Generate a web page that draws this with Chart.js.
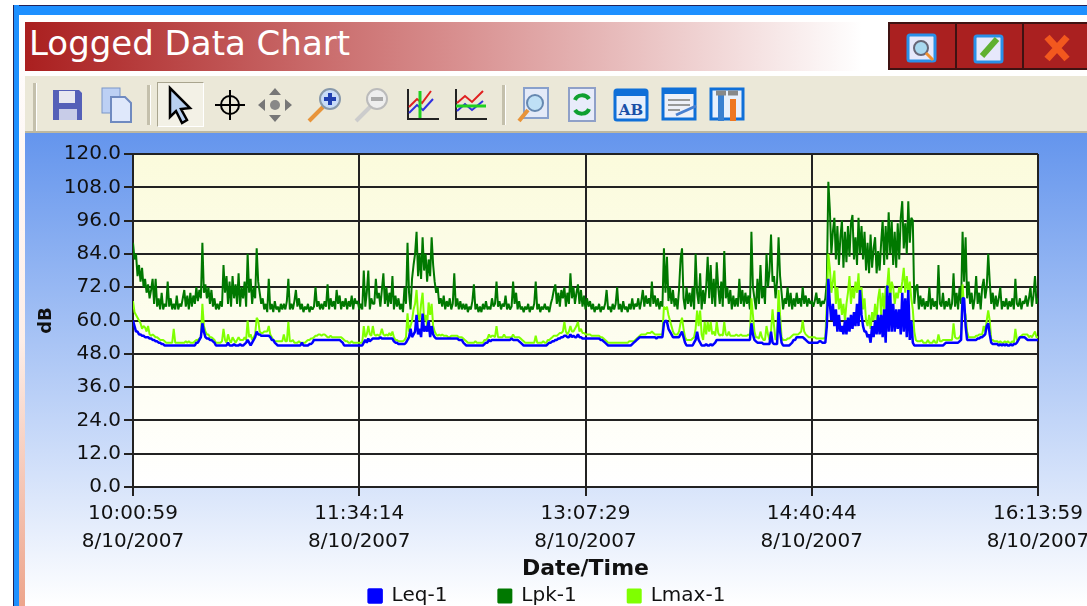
<!DOCTYPE html>
<html>
<head>
<meta charset="utf-8">
<title>Logged Data Chart</title>
<script src="https://cdn.jsdelivr.net/npm/chart.js@4"></script>
<style>
  html, body { margin: 0; padding: 0; background: #fff; overflow: hidden; }
  body { width: 1087px; height: 606px; position: relative; font-family: "DejaVu Sans", sans-serif; }
  .abs { position: absolute; }
  #frameTop { left: 13px; right: 0; top: 5px; height: 10px; background: #1e90ff; border-top: 1px solid #23235a; box-sizing: border-box; }
  #frameLeft { left: 13px; top: 5px; width: 6px; height: 601px; background: #1e90ff; border-left: 1px solid #23235a; box-sizing: border-box; }
  #frameInner { left: 19px; top: 15px; width: 6px; height: 591px; background: linear-gradient(#fff, #fdeee8 55%, #eda58c); }
  #titleBar { left: 25px; top: 22px; width: 863px; height: 49px; background: linear-gradient(90deg, #aa1f1f, #d88f8f 50%, #fff 97%); color: #fff; font-size: 34px; line-height: 43px; padding-left: 4px; box-sizing: border-box; }
  .winBtn { top: 22px; height: 48px; background: #aa2020; border: 2px solid #3f1212; box-sizing: border-box; }
  #toolBar { left: 25px; right: 0; top: 76px; height: 57px; background: #ebe8d8; border-bottom: 2px solid #bdb8a0; box-sizing: border-box; }
  #pressed { left: 157px; top: 82px; width: 47px; height: 45px; background: #f3f1e6; border: 1px solid #a9a58f; border-right-color: #fff; border-bottom-color: #fff; box-sizing: border-box; }
  .sep { top: 85px; width: 3px; height: 40px; background: #c4c0ac; border-right: 1px solid #fff; }
  .icon { top: 85px; width: 40px; height: 40px; }
  #panel { left: 25px; right: 0; top: 133px; bottom: 0; background: linear-gradient(#6495ed, #ffffff); }
  #chartBox { left: 0; top: 133px; }
</style>
</head>
<body>
<div class="abs" id="frameTop"></div>
<div class="abs" id="frameLeft"></div>
<div class="abs" id="frameInner"></div>
<div class="abs" id="titleBar">Logged Data Chart</div>

<div class="abs winBtn" style="left:888px;width:69px"></div>
<div class="abs winBtn" style="left:955px;width:69px"></div>
<div class="abs winBtn" style="left:1022px;width:70px"></div>
<svg class="abs" style="left:906px;top:33px" width="32" height="30"><rect x="2" y="2" width="27" height="26" rx="2" fill="#e6e8fb" stroke="#2a90e8" stroke-width="3"/><circle cx="15" cy="15" r="7" fill="#a8d8f0" stroke="#667"  stroke-width="2"/><path d="M20 20l7 7" stroke="#f09030" stroke-width="3"/></svg>
<svg class="abs" style="left:973px;top:32px" width="32" height="32"><rect x="2" y="4" width="27" height="26" rx="2" fill="#e6e8fb" stroke="#2a90e8" stroke-width="3"/><path d="M9 24L24 7" stroke="#5fb030" stroke-width="6"/></svg>
<svg class="abs" style="left:1042px;top:33px" width="30" height="30"><path d="M5 4L25 26M25 4L5 26" stroke="#f2581e" stroke-width="7"/></svg>

<div class="abs" id="toolBar"></div>
<div class="abs sep" style="left:33px;top:83px;height:48px"></div>
<div class="abs sep" style="left:147px"></div>
<div class="abs" id="pressed"></div>
<div class="abs sep" style="left:502px"></div>

<svg class="abs icon" style="left:47px"><path d="M6 5h26l3 3v27H6z" fill="#5560b8"/><rect x="12" y="6" width="16" height="12" fill="#e8e8f0"/><rect x="12" y="24" width="18" height="11" fill="#c8cce8"/></svg>
<svg class="abs icon" style="left:97px"><rect x="5" y="3" width="18" height="25" fill="#bcd0f4" stroke="#7b96c8"/><path d="M14 12h14l6 6v19H14z" fill="#dfe8fb" stroke="#6f8ac0" stroke-width="2"/></svg>
<svg class="abs icon" style="left:160px"><path d="M10 3V32L16 26 22 38 27 35 21 24 30 23Z" fill="#b8d0f0" stroke="#000" stroke-width="2.5"/></svg>
<svg class="abs icon" style="left:210px"><circle cx="20" cy="20" r="9" fill="none" stroke="#000" stroke-width="2"/><path d="M20 5V35M5 20H35" stroke="#000" stroke-width="2"/></svg>
<svg class="abs icon" style="left:255px"><path d="M20 3l6 7H14zM20 37l6-7H14zM3 20l7-6v12zM37 20l-7-6v12z" fill="#777"/><circle cx="20" cy="20" r="5" fill="#888"/></svg>
<svg class="abs icon" style="left:305px"><path d="M4 36L18 22" stroke="#e8943a" stroke-width="4"/><circle cx="25" cy="14" r="10" fill="#c8dcf8" stroke="#89a" stroke-width="2"/><path d="M25 8v12M19 14h12" stroke="#2040b0" stroke-width="4"/></svg>
<svg class="abs icon" style="left:352px"><path d="M4 36L18 22" stroke="#ccc" stroke-width="4"/><circle cx="25" cy="14" r="10" fill="#eee" stroke="#bbb" stroke-width="2"/><path d="M19 14h12" stroke="#aaa" stroke-width="4"/></svg>
<svg class="abs icon" style="left:403px"><path d="M5 4V34H36" fill="none" stroke="#222" stroke-width="2"/><path d="M6 22l8-8 5 4 9-12" fill="none" stroke="#e02020" stroke-width="2"/><path d="M6 28l8-8 6 5 10-11" fill="none" stroke="#3030e0" stroke-width="2"/><path d="M17 6V33" stroke="#20d020" stroke-width="3"/></svg>
<svg class="abs icon" style="left:451px"><path d="M5 4V34H36" fill="none" stroke="#222" stroke-width="2"/><path d="M6 18l8-7 7 6 11-11" fill="none" stroke="#e02020" stroke-width="2"/><path d="M6 26l8-7 7 6 11-9" fill="none" stroke="#3030e0" stroke-width="2"/><path d="M5 21H35" stroke="#20d020" stroke-width="3"/></svg>
<svg class="abs icon" style="left:515px"><rect x="9" y="3" width="24" height="30" fill="#e4eaf8" stroke="#88a0cc" stroke-width="2"/><circle cx="20" cy="18" r="8" fill="#bfe0f6" stroke="#6688b0" stroke-width="2"/><path d="M4 36L13 25" stroke="#e8943a" stroke-width="4"/></svg>
<svg class="abs icon" style="left:562px"><rect x="7" y="3" width="26" height="33" fill="#e8ecfa" stroke="#8fa0c8" stroke-width="2"/><path d="M13 15c2-6 11-6 14-1M27 24c-2 6-11 6-14 1" fill="none" stroke="#10a030" stroke-width="4"/></svg>
<svg class="abs icon" style="left:611px"><rect x="4" y="5" width="32" height="30" rx="2" fill="#e8f0fc" stroke="#0f6fd8" stroke-width="3"/><rect x="4" y="5" width="32" height="6" fill="#0f6fd8"/><text x="20" y="30" font-family="DejaVu Serif" font-weight="bold" font-size="15" text-anchor="middle" fill="#1a50a8">AB</text></svg>
<svg class="abs icon" style="left:660px"><rect x="3" y="4" width="32" height="30" fill="#eef0f8" stroke="#0f6fd8" stroke-width="3"/><rect x="3" y="4" width="32" height="5" fill="#0f6fd8"/><path d="M8 15h22M8 20h22M8 25h12" stroke="#999" stroke-width="2"/><path d="M16 30L36 21" stroke="#4a80d0" stroke-width="3"/></svg>
<svg class="abs icon" style="left:707px"><rect x="4" y="4" width="32" height="30" fill="#e8f0fc" stroke="#0f6fd8" stroke-width="3"/><path d="M14 8V36" stroke="#3a80d0" stroke-width="6"/><path d="M26 14V36" stroke="#ee7722" stroke-width="6"/><path d="M9 8h10M21 8h10" stroke="#888" stroke-width="5"/></svg>

<div class="abs" id="panel"></div>
<div class="abs" id="chartBox"><canvas id="chart" width="1087" height="473"></canvas></div>

<script>
// sample every 37.3 s across the logged period, rows of 20 samples
const lpk = [
  88, 82, 84, 76, 80, 74, 79, 72, 75, 70, 73, 68, 71, 75, 66, 75, 65, 68, 64, 70,
  64, 66, 65, 74, 65, 68, 64, 66, 64, 69, 64, 66, 65, 68, 71, 65, 69, 64, 70, 65,
  69, 66, 72, 67, 71, 68, 88, 70, 73, 68, 72, 66, 71, 65, 68, 64, 66, 64, 67, 65,
  80, 70, 76, 66, 74, 65, 76, 68, 73, 66, 77, 65, 72, 68, 74, 65, 84, 70, 75, 66,
  72, 68, 86, 74, 70, 66, 68, 64, 66, 63, 75, 64, 66, 63, 67, 64, 65, 63, 66, 64,
  66, 64, 67, 75, 64, 66, 64, 67, 71, 65, 68, 64, 66, 63, 65, 64, 66, 63, 65, 64,
  65, 72, 65, 67, 64, 66, 64, 67, 65, 73, 64, 68, 65, 67, 64, 71, 66, 69, 64, 67,
  65, 68, 64, 67, 65, 69, 64, 68, 66, 67, 64, 66, 64, 78, 65, 70, 78, 64, 68, 66,
  66, 75, 68, 70, 65, 71, 77, 66, 72, 65, 70, 66, 76, 64, 69, 65, 68, 64, 66, 63,
  72, 66, 88, 70, 64, 75, 80, 84, 92, 76, 84, 75, 90, 78, 84, 74, 82, 76, 90, 80,
  74, 70, 72, 66, 68, 65, 69, 64, 67, 65, 68, 64, 66, 77, 65, 68, 64, 67, 64, 66,
  64, 66, 63, 65, 64, 67, 73, 64, 66, 63, 65, 63, 66, 64, 67, 64, 65, 64, 68, 65,
  66, 74, 65, 67, 64, 66, 65, 69, 64, 66, 64, 65, 74, 66, 70, 64, 67, 64, 65, 63,
  65, 64, 66, 63, 65, 64, 66, 74, 64, 66, 63, 65, 64, 66, 64, 65, 63, 66, 68, 71,
  73, 66, 70, 65, 71, 68, 72, 65, 70, 66, 77, 68, 72, 66, 70, 73, 66, 71, 65, 69,
  64, 68, 65, 67, 64, 66, 63, 65, 64, 66, 63, 65, 64, 66, 71, 64, 65, 63, 66, 64,
  66, 72, 64, 66, 63, 67, 64, 65, 63, 66, 64, 68, 64, 66, 65, 68, 64, 67, 71, 65,
  69, 66, 68, 65, 74, 66, 69, 65, 68, 64, 67, 65, 86, 70, 83, 67, 72, 66, 71, 65,
  68, 64, 71, 82, 86, 68, 64, 72, 66, 70, 65, 72, 64, 84, 70, 66, 77, 64, 71, 66,
  72, 83, 68, 80, 66, 75, 65, 81, 72, 66, 74, 65, 85, 68, 72, 66, 71, 64, 69, 65,
  68, 65, 75, 66, 71, 65, 70, 66, 69, 64, 92, 72, 68, 64, 75, 66, 80, 68, 72, 66,
  84, 72, 78, 91, 74, 76, 68, 74, 90, 76, 70, 64, 68, 66, 72, 65, 70, 64, 68, 65,
  70, 66, 68, 65, 72, 66, 69, 65, 68, 66, 67, 65, 67, 70, 66, 68, 65, 67, 66, 68,
  74, 110, 100, 84, 92, 97, 82, 94, 80, 90, 96, 79, 92, 81, 94, 83, 95, 98, 82, 90,
  80, 97, 84, 94, 82, 92, 78, 88, 77, 91, 79, 86, 90, 77, 85, 78, 88, 96, 80, 94,
  82, 99, 84, 96, 80, 92, 79, 95, 82, 97, 103, 86, 95, 84, 103, 88, 97, 96, 66, 72,
  73, 64, 69, 65, 68, 64, 67, 65, 72, 64, 68, 65, 67, 64, 80, 66, 65, 70, 64, 67,
  65, 68, 64, 66, 77, 65, 70, 64, 72, 66, 92, 74, 90, 68, 74, 66, 70, 64, 68, 76,
  66, 70, 64, 72, 75, 68, 72, 84, 74, 66, 70, 64, 69, 65, 68, 72, 64, 67, 65, 68,
  64, 67, 65, 68, 64, 75, 66, 65, 68, 64, 67, 66, 69, 65, 68, 72, 65, 69, 76, 66,
  68
];
const lmax = [
  67, 63, 62, 61, 60, 59, 57, 58, 57.5, 56, 58, 55, 54.5, 55, 54.5, 54, 54, 53.5, 53, 53,
  53, 52.5, 52, 52, 52, 52, 52, 57, 52, 52, 52, 52, 52, 52, 52, 52.5, 52, 52.5, 52, 52,
  52, 52.5, 53, 53, 53.5, 54, 66, 58, 56, 55, 55, 54, 54, 53.5, 53, 52, 52, 52, 52, 52.5,
  57, 53, 52, 55, 53, 52, 54, 53, 52, 53, 54, 53, 53, 53, 54, 53, 60, 54, 55, 53,
  54, 55, 61, 60, 56, 55.5, 55.5, 56, 56, 56, 58, 55, 54, 53, 52.5, 52.5, 52.5, 52.5, 52.5, 52.5,
  55, 52.5, 52.5, 59.5, 52.5, 52.5, 53, 52, 52, 52, 52.5, 52, 52, 52, 52, 52.5, 53, 53, 53.5, 53.5,
  54, 54.5, 54.5, 55, 55, 54.5, 55, 55, 54.5, 54, 54, 54.5, 54, 54, 54, 54, 54, 54, 54, 53.5,
  53, 52.5, 52.5, 52, 52, 52.5, 52, 52, 52, 52, 52, 52, 52, 58, 54, 55, 58, 55, 54.5, 58,
  55, 54.5, 55, 54.5, 55, 57, 55, 54.5, 55, 54.5, 55.5, 54.5, 56, 54, 53, 53, 52.5, 52.5, 52.5, 52.5,
  53, 54, 62.6, 56, 58, 60, 64, 66, 71, 62, 60, 66, 70, 60, 62, 58, 66.5, 62, 66, 58,
  56, 55, 54.5, 55, 54.5, 55, 54.5, 54.5, 54.5, 54, 54, 54.5, 54.5, 54.5, 54.5, 54.5, 54, 54, 54, 53.5,
  53, 52.5, 52, 52, 52, 52, 52, 52.5, 52, 52, 52, 52, 52, 53, 53, 53.5, 55, 54, 54.5, 54.5,
  54, 58, 54, 54, 54, 54, 55, 54, 54, 54, 54, 54, 55, 54, 54, 54, 54, 53.5, 53, 52.5,
  52, 52, 52, 52, 52, 52, 52, 54.5, 52, 52, 52, 52, 52.5, 52, 52, 53, 53, 53.5, 54, 54.5,
  54.5, 54.5, 55, 55.5, 55.5, 56, 59.5, 56, 55, 56, 58, 56, 56, 57, 58, 59.5, 56, 57, 55.5, 55.5,
  55, 55, 55, 55, 54.5, 54.5, 54.5, 54.5, 54.5, 54.5, 54, 54, 53.5, 53, 52.5, 52, 52, 52, 52, 52,
  52, 52, 52, 52, 52, 52, 52, 52, 52, 52.5, 52.5, 52.5, 52.5, 53, 53.5, 54, 54.5, 55, 55, 55,
  55, 55.5, 55.5, 55.5, 56, 55.5, 55, 55, 55, 55, 55, 55, 65, 64, 65, 62, 60, 58, 56, 55,
  55, 55, 56, 59, 61, 57, 54, 53, 53, 53, 53, 53.5, 54, 57, 63.6, 58, 63.6, 55, 53, 59.5,
  55, 59.5, 56, 59.5, 55, 56, 54.5, 59.5, 55.5, 54.5, 55, 54.5, 59.5, 55, 54.5, 56, 54.5, 54.5, 54.5, 54.5,
  55, 54.5, 54.5, 55, 54.5, 54.5, 54.5, 54.5, 55, 54.5, 68, 62, 56, 54, 54, 53.5, 56, 54, 53, 53,
  58, 55, 53, 56, 64, 58, 53, 54, 71, 62, 54, 53, 53, 53, 53.5, 53.5, 54, 54.5, 55, 55,
  55, 55, 55.5, 56, 60, 56, 55, 54.5, 54, 54, 54, 54, 54, 53.5, 53.5, 53.5, 53.5, 53.5, 53.5, 54,
  66, 84, 79, 70, 74, 78, 66, 72, 64, 68, 62, 66, 60, 66, 70, 76, 66, 72, 68, 74,
  70, 77, 66, 72, 64, 68, 60, 58, 62, 57, 63, 60, 66, 60, 68, 71.5, 62, 70, 64, 72,
  72, 79, 68, 74, 72, 66, 70, 68, 72, 70, 74, 79, 70, 76, 70, 74, 68, 64, 56, 53,
  52.5, 52.5, 52.5, 53, 52, 52, 52, 53, 52, 52, 52, 53, 52, 52, 55, 52.5, 52.5, 53, 53, 53,
  53, 53, 53, 53, 59, 54, 53.5, 53.5, 54, 55, 73, 64, 62, 56, 54, 54, 54, 54, 54, 54.5,
  54.5, 55, 55, 55, 58, 56, 60, 63.6, 60, 53, 53, 52.5, 52.5, 52.5, 52, 52.5, 52, 52, 52.5, 52,
  52.5, 52, 52, 52.5, 52, 57, 53, 53, 54, 54.5, 55, 55, 55, 55, 54, 54.5, 54, 55, 56, 54,
  54
];
const leq = [
  60, 58, 56, 56, 55, 55, 54.5, 54.5, 54, 54, 54, 53.5, 53.5, 53, 53, 52.5, 52.5, 52, 52, 51.5,
  51.5, 51, 51, 51, 51, 51, 51, 51, 51, 51, 51, 51, 51, 51, 51, 51, 51, 51, 51, 51,
  51, 51, 52, 52, 53, 54, 59, 56, 54, 53.5, 53.5, 53, 53, 52.5, 52, 51, 51, 51, 51, 51,
  51, 51, 51, 52, 51, 51, 51, 51.5, 51, 51, 51, 51.5, 51, 51, 51.5, 52, 53, 52, 51, 52,
  53, 54, 56, 55, 55, 54.5, 54.5, 54.5, 54.5, 54.5, 54.5, 54, 53, 53, 52, 51.5, 51, 51, 51, 51,
  51, 51, 51, 51, 51, 51, 51, 51, 51, 51, 51, 51, 52, 51, 51, 51, 51, 51.5, 51.5, 52,
  53, 53, 53, 53, 53, 53, 53, 53, 53, 53, 53, 53, 53, 53, 53, 53, 53, 53, 52.5, 52,
  51, 51, 51, 51, 51, 51, 51, 51, 51, 51, 51, 51, 51, 52, 53, 52, 53.5, 52.5, 53, 53.5,
  53.5, 53.5, 53.5, 53.5, 54, 53.5, 53.5, 53.5, 53.5, 53.5, 53.5, 53.5, 53.5, 52.5, 52, 52, 51.5, 51.5, 51.5, 51.5,
  51.5, 52, 53, 54, 57, 54, 55, 56, 62, 55, 57, 54, 62.5, 56, 58, 56, 60, 54, 58, 55,
  54, 53.5, 53.5, 53.5, 53.5, 53.5, 53.5, 53.5, 53.5, 53.5, 53.5, 53.5, 53.5, 53.5, 53.5, 53.5, 53, 53, 53, 52,
  51.5, 51, 51, 51, 51, 51, 51, 51, 51, 51, 51, 51, 51, 51.5, 52, 52, 53, 52.5, 53, 53,
  53, 53, 53, 53, 53, 53, 53, 53, 53, 53, 53, 53.5, 53, 53, 53, 53, 52.5, 52, 51.5, 51,
  51, 51, 51, 51, 51, 51, 51, 51, 51, 51, 51, 51, 51, 51, 51, 51.5, 52, 52, 52.5, 52.5,
  53, 53, 53.5, 53.5, 54, 54, 54.5, 54.5, 54, 54, 55, 54, 54.5, 54, 54, 55, 54, 54, 53.5, 53.5,
  53.5, 53.5, 53.5, 53.5, 53.5, 53.5, 53.5, 53.5, 53.5, 53.5, 53, 53, 52.5, 52, 51.5, 51, 51, 51, 51, 51,
  51, 51, 51, 51, 51, 51, 51, 51, 51, 51, 51, 51.5, 52, 52.5, 53, 53.5, 54, 54, 54, 54,
  54, 54, 54, 54, 54, 54, 54, 53.5, 54, 54, 54, 54, 59, 60, 59.5, 57, 56, 55, 54, 54,
  54, 54, 54, 55, 56, 54, 52, 51, 51, 51, 51, 51, 52, 53, 56, 53, 52, 51, 51, 51,
  51.5, 51, 51, 51.5, 51, 51.5, 52, 53, 53, 53, 53, 53, 53, 53, 53, 53, 53, 53, 53, 53,
  53, 53, 53, 53, 53, 53, 53, 53, 53, 53, 59, 55, 53, 52.5, 52, 52, 52, 52, 51.5, 51.5,
  51.5, 51.5, 51.5, 56, 52, 51.5, 51.5, 51.5, 63, 56, 52, 51, 51, 51, 51, 51, 51.5, 52, 53, 53,
  54, 54, 54, 54, 54, 53.5, 53, 52.5, 52, 52, 52, 52, 52, 52, 52, 52.5, 52.5, 52, 52, 52,
  58, 75, 66, 60, 66, 58, 64, 56, 62, 56, 58, 55, 60, 55, 61, 56, 62, 57, 63, 58,
  66, 58, 71, 62, 58, 56, 56, 54, 55, 52, 58, 54, 60, 55, 62, 55, 62, 54, 64, 52,
  72.6, 56, 70, 56, 66, 56, 64, 57, 64, 55, 70, 56, 68, 54, 71, 53, 60, 52, 51, 51,
  51, 51, 51, 51, 51, 51, 51, 51, 51, 51, 51, 51, 51, 51, 51, 51, 51, 51, 51.5, 52,
  52, 52, 52, 52, 52, 52, 52, 52, 52.5, 53, 68, 68, 58, 53, 53, 53, 53, 53, 53, 53,
  53.5, 53.5, 54, 54, 54.5, 55, 58, 59, 55, 52, 51.5, 51.5, 51.5, 51.5, 51, 51.5, 51, 51.5, 51, 51.5,
  51, 51, 51.5, 51, 51.5, 51.5, 52, 53, 54, 54, 54, 54, 53.5, 53, 53, 53, 53, 53, 53, 53,
  53
];

const seriesNames = ['Leq-1', 'Lpk-1', 'Lmax-1'];
const timeLabels = ['10:00:59', '11:34:14', '13:07:29', '14:40:44', '16:13:59'];
const dateLabels = ['8/10/2007', '8/10/2007', '8/10/2007', '8/10/2007', '8/10/2007'];
const yTicks = [0, 12, 24, 36, 48, 60, 72, 84, 96, 108, 120];

// seconds since midnight
const startSec = 36059;
const endSec = 58439;
const tickStepSec = 5595;

function toPoints(values) {
  return values.map((v, i) => ({ x: startSec + i * (endSec - startSec) / (values.length - 1), y: v }));
}

// plot background, yellow fading out to white
const plotBackground = {
  id: 'plotBackground',
  beforeDraw(chart) {
    const { ctx, chartArea } = chart;
    const grad = ctx.createLinearGradient(0, chartArea.top, 0, chartArea.bottom);
    grad.addColorStop(0, '#fbfbdc');
    grad.addColorStop(1, '#ffffff');
    ctx.fillStyle = grad;
    ctx.fillRect(chartArea.left, chartArea.top, chartArea.width, chartArea.height);
  }
};

// the legend sits under the axis title, its padding would push them apart
const legendPlacement = {
  id: 'legendPlacement',
  afterLayout(chart) {
    const x = chart.scales.x;
    x.bottom = x.top + 95;
    x.height = 95;
    chart.legend.top += 10;
    chart.legend.left += 28;
    chart.legend.right += 28;
  }
};

const fontFamily = '"DejaVu Sans", sans-serif';

new Chart(document.getElementById('chart'), {
  type: 'line',
  plugins: [plotBackground, legendPlacement],
  data: {
    datasets: [
      { label: seriesNames[0], data: toPoints(leq), borderColor: '#0000ff', backgroundColor: '#0000ff', borderWidth: 2.5, order: 1 },
      { label: seriesNames[1], data: toPoints(lpk), borderColor: '#007800', backgroundColor: '#007800', borderWidth: 2, order: 3 },
      { label: seriesNames[2], data: toPoints(lmax), borderColor: '#7fff00', backgroundColor: '#7fff00', borderWidth: 2, order: 2 }
    ]
  },
  options: {
    responsive: false,
    animation: false,
    parsing: false,
    elements: { point: { radius: 0 }, line: { tension: 0, borderJoinStyle: 'bevel' } },
    layout: { padding: { top: 21, right: 49, left: 0, bottom: 0 } },
    plugins: {
      tooltip: { enabled: false },
      legend: {
        position: 'bottom',
        labels: {
          boxWidth: 13,
          boxHeight: 13,
          padding: 51,
          color: '#111',
          font: { family: fontFamily, size: 20 },
          sort: (a, b) => a.datasetIndex - b.datasetIndex
        }
      }
    },
    scales: {
      x: {
        type: 'linear',
        min: startSec,
        max: endSec,
        afterTickToLabelConversion(scale) {
          scale.ticks.forEach((t, i) => { t.label = [timeLabels[i], dateLabels[i]]; });
        },
        afterFit(scale) {
          scale.height = 38;
          scale.paddingLeft = 0;
          scale.paddingRight = 0;
        },
        ticks: {
          stepSize: tickStepSec,
          maxRotation: 0,
          autoSkip: false,
          padding: 4,
          color: '#111',
          font: { family: fontFamily, size: 20, lineHeight: 1.4 }
        },
        grid: { color: '#222', lineWidth: 2, tickLength: 9 },
        border: { color: '#222', width: 2 },
        title: {
          display: true,
          text: 'Date/Time',
          color: '#111',
          font: { family: fontFamily, size: 22, weight: 'bold' },
          padding: 0
        }
      },
      y: {
        min: yTicks[0],
        max: yTicks[yTicks.length - 1],
        afterFit(scale) {
          scale.width = 133;
          scale.paddingTop = 0;
          scale.paddingBottom = 0;
        },
        ticks: {
          stepSize: yTicks[1] - yTicks[0],
          padding: 3,
          color: '#111',
          font: { family: fontFamily, size: 20 },
          callback: v => v.toFixed(1)
        },
        grid: { color: '#222', lineWidth: 2, tickLength: 9 },
        border: { color: '#222', width: 2 },
        title: {
          display: true,
          text: 'dB',
          color: '#111',
          font: { family: fontFamily, size: 18, weight: 'bold' },
          padding: { top: 36, bottom: 0 }
        }
      }
    }
  }
});
</script>
</body>
</html>
